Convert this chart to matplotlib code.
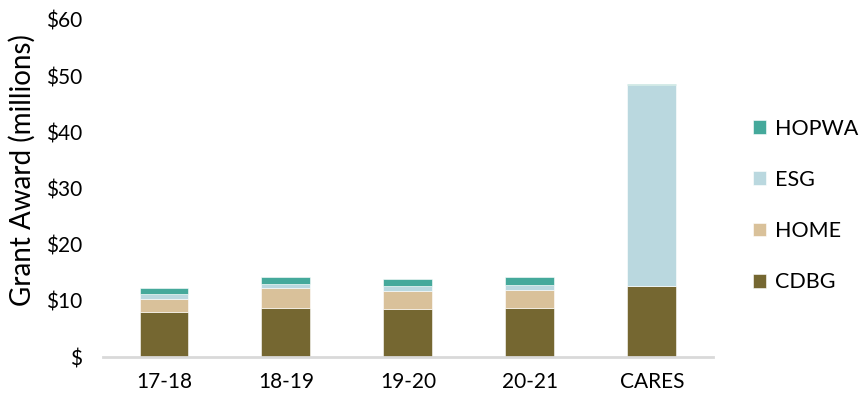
import numpy as np
import matplotlib.pyplot as plt
from matplotlib.ticker import FuncFormatter

plt.rcParams['font.family'] = ['Lato', 'DejaVu Sans']

categories = ['17-18', '18-19', '19-20', '20-21', 'CARES']
cdbg = [8.0, 8.7, 8.6, 8.7, 12.6]
home = [2.4, 3.5, 3.2, 3.3, 0.0]
esg = [0.85, 0.8, 0.8, 0.9, 35.8]
hopwa = [1.05, 1.2, 1.3, 1.4, 0.2]

series = [('CDBG', cdbg, '#756731'),
          ('HOME', home, '#d9c19a'),
          ('ESG', esg, '#bad8df'),
          ('HOPWA', hopwa, '#45a99b')]

fig = plt.figure(figsize=(8.65, 4), dpi=100)
ax = fig.add_axes([0.119, 0.1075, 0.705, 0.8425])

x = np.arange(len(categories))
bottom = np.zeros(len(categories))
handles = []
for name, vals, color in series:
    vals = np.array(vals)
    b = ax.bar(x, vals, 0.4, bottom=bottom, color=color, label=name,
               edgecolor='white', linewidth=0.4)
    handles.append(b)
    bottom += vals

ax.set_xlim(-0.5, 4.5)
ax.set_ylim(0, 60)
ax.set_yticks(range(0, 61, 10))
ax.yaxis.set_major_formatter(FuncFormatter(lambda v, p: '$' if v == 0 else f'${int(v)}'))
ax.set_xticks(x)
ax.set_xticklabels(categories)
ax.tick_params(axis='y', length=0, pad=15, labelsize=15)
ax.tick_params(axis='x', length=0, pad=11, labelsize=15)

for s in ['top', 'right', 'left']:
    ax.spines[s].set_visible(False)
ax.spines['bottom'].set_color('#d9d9d9')
ax.spines['bottom'].set_linewidth(2)

ax.set_ylabel('Grant Award (millions)', fontsize=20)
ax.yaxis.set_label_coords(-0.11, 0.555)

ax.legend(handles[::-1], [s[0] for s in series][::-1], loc='center left',
          bbox_to_anchor=(753 / 865, (400 - 205.5) / 400),
          bbox_transform=fig.transFigure, frameon=False, fontsize=15.5,
          handlelength=0.6, handleheight=0.6, handletextpad=0.4,
          labelspacing=1.45, borderaxespad=0, borderpad=0)

fig.savefig('out.png', dpi=100)
